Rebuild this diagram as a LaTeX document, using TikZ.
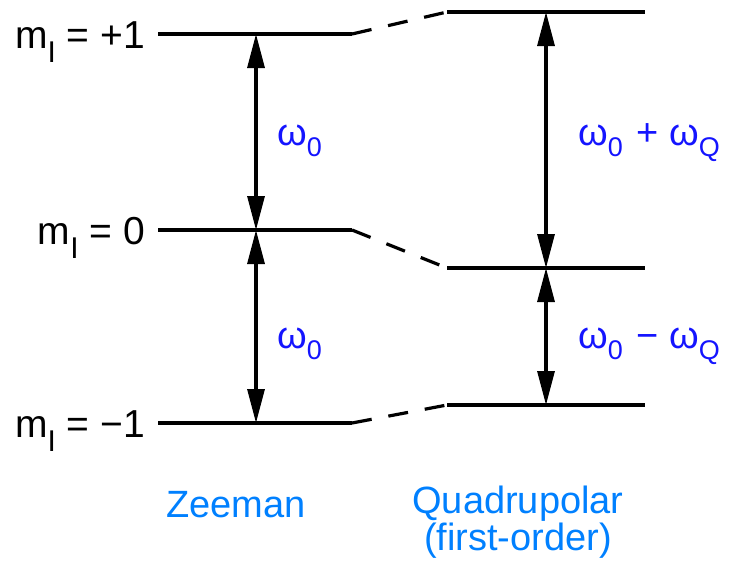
\documentclass[tikz,border=0pt]{standalone}
\usepackage{fontspec}
\setmainfont{Liberation Sans}
\usetikzlibrary{arrows.meta}
\definecolor{wblue}{RGB}{20,20,255}
\definecolor{lblue}{RGB}{0,128,255}
\newcommand{\mlab}[1]{m\raisebox{-14pt}{\fontsize{30}{30}\selectfont I} = #1}
\newcommand{\omsub}[1]{ω\raisebox{-11pt}{\fontsize{27}{27}\selectfont #1}}
\begin{document}
\begin{tikzpicture}[x=1pt,y=-1pt,
  level/.style={line width=3.2pt},
  link/.style={line width=3.2pt, dash pattern=on 20pt off 17pt},
  gaparrow/.style={line width=3.2pt, {Triangle[length=34pt,width=17pt]}-{Triangle[length=34pt,width=17pt]}},
  mlabel/.style={anchor=base east, inner sep=0pt, font=\fontsize{39}{39}\selectfont},
  wlabel/.style={anchor=base west, inner sep=0pt, text=wblue, font=\fontsize{38}{38}\selectfont},
  clabel/.style={anchor=base, inner sep=0pt, text=lblue, font=\fontsize{38}{38}\selectfont}]
\useasboundingbox (0,0) rectangle (733,563);
% level end points
\coordinate (zpA) at (158,34);  \coordinate (zpB) at (352,34);
\coordinate (qpA) at (447,12);  \coordinate (qpB) at (645,12);
\coordinate (z0A) at (158,230); \coordinate (z0B) at (352,230);
\coordinate (q0A) at (447,268); \coordinate (q0B) at (645,268);
\coordinate (zmA) at (158,423); \coordinate (zmB) at (352,423);
\coordinate (qmA) at (447,405); \coordinate (qmB) at (645,405);
% arrow end points
\coordinate (zp) at (256,34);  \coordinate (z0) at (256,230); \coordinate (zm) at (256,423);
\coordinate (qp) at (546,12);  \coordinate (q0) at (546,268); \coordinate (qm) at (546,405);
% levels
\draw[level] (zpA) -- (zpB);
\draw[level] (z0A) -- (z0B);
\draw[level] (zmA) -- (zmB);
\draw[level] (qpA) -- (qpB);
\draw[level] (q0A) -- (q0B);
\draw[level] (qmA) -- (qmB);
\draw[link] (zpB) -- (qpA);
\draw[link] (z0B) -- (q0A);
\draw[link] (zmB) -- (qmA);
% arrows
\draw[gaparrow] (zp) -- (z0);
\draw[gaparrow] (z0) -- (zm);
\draw[gaparrow] (qp) -- (q0);
\draw[gaparrow] (q0) -- (qm);
% labels
\node[mlabel] (lp) at (145,48) {\mlab{+1}};
\node[mlabel] (l0) at (145,244) {\mlab{0}};
\node[mlabel] (lm) at (145,437) {\mlab{−1}};
\node[wlabel] (w1) at (277,145) {\omsub{0}};
\node[wlabel] (w2) at (277,348) {\omsub{0}};
\node[wlabel] (w3) at (578,145) {\omsub{0}\hspace{3pt} + \omsub{Q}};
\node[wlabel] (w4) at (578,348) {\omsub{0}\hspace{3pt} − \omsub{Q}};
\node[clabel] (zee) at (236,517) {Zeeman};
\node[clabel] (quad1) at (518,513) {Quadrupolar};
\node[clabel] (quad2) at (518,550) {(first-order)};
\end{tikzpicture}
\end{document}
